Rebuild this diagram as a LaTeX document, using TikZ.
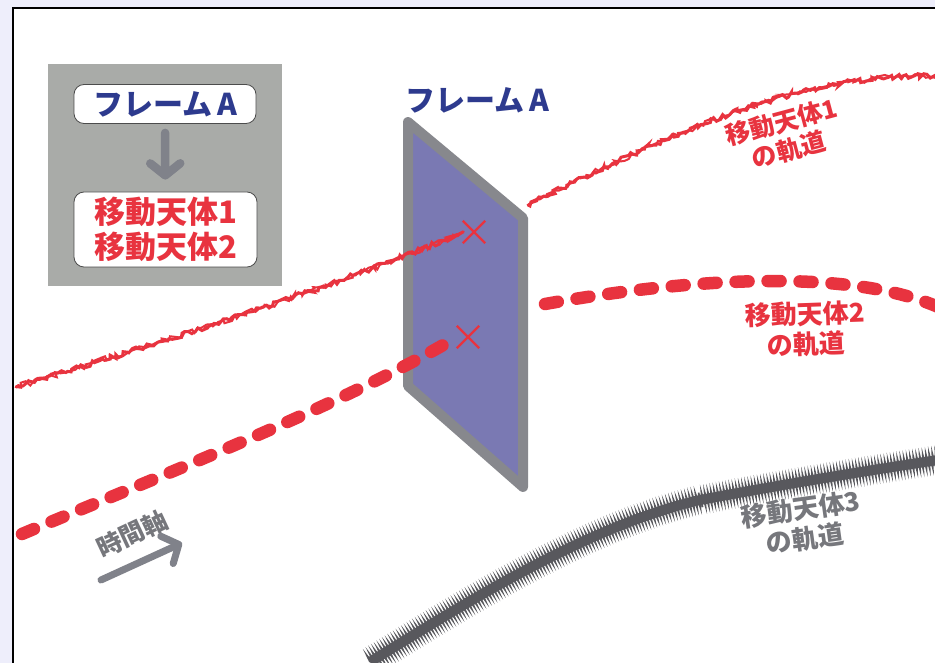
\documentclass[tikz,border=0pt]{standalone}
\usepackage{fontspec}
\newfontfamily\jp{Noto Sans CJK JP}
\usetikzlibrary{decorations.pathmorphing,arrows.meta,shapes.misc}
\definecolor{bglav}{HTML}{EEEEFB}
\definecolor{leggray}{HTML}{A9ABA8}
\definecolor{navy}{HTML}{2D3A8E}
\definecolor{orbred}{HTML}{E8333F}
\definecolor{pfill}{HTML}{7A79B3}
\definecolor{pedge}{HTML}{87888D}
\definecolor{arrgray}{HTML}{80828A}
\definecolor{labgray}{HTML}{76777C}
\definecolor{orbgray}{HTML}{58585D}
\tikzset{
  lbox/.style={draw=black!70, line width=0.8pt, fill=white, rounded corners=10pt, inner sep=0pt, align=center},
  jpf/.style 2 args={font=\jp\bfseries\fontsize{#1}{#2}\selectfont},
  garrow/.style={draw=arrgray, line width=8.5pt, line cap=round, -{Straight Barb[round,length=12pt,width=30pt]}},
  orbone/.style={draw=orbred, line width=3pt, line cap=round, decorate, decoration={random steps, segment length=3pt, amplitude=2.4pt}},
  orbonex/.style={draw=orbred, line width=2pt, line cap=round, decorate, decoration={random steps, segment length=4pt, amplitude=3pt}},
  orbtwo/.style={draw=orbred, line width=12.5pt, line cap=round, dash pattern=on 13pt off 19pt},
  orbbase/.style={draw=orbgray, line width=10pt},
  orbthree/.style={draw=orbgray, line width=1.6pt, decorate, decoration={zigzag, segment length=3.2pt, amplitude=7.5pt}},
  xmark/.style={cross out, draw=orbred, line width=2.4pt, minimum size=20pt, inner sep=0pt},
  orblab/.style={align=center, inner sep=0pt},
}
\pgfmathsetseed{7}
\begin{document}
\begin{tikzpicture}[x=1pt,y=-1pt]
\clip (0,0) rectangle (935,663);
\fill[bglav] (0,0) rectangle (935,663);
\draw[line width=2pt, fill=white] (13,8) rectangle (950,680);

% legend
\fill[leggray] (48,64) rectangle (282,286);
\node[lbox, minimum width=182pt, minimum height=39pt, jpf={30}{34}, text=navy] (fa) at (165,104) {フレーム\hspace{5pt}A};
\node[lbox, minimum width=183pt, minimum height=75pt, jpf={31}{35}, text=orbred] (fb) at (165.5,229.5) {移動天体1\\移動天体2};
\draw[garrow, shorten <=9pt, shorten >=12pt] (fa) -- (fb);

% frame panel
\draw[line width=10pt, draw=pedge, fill=pfill, line join=round] (408,122) -- (523,218) -- (523,487) -- (408,386) -- cycle;
\node[jpf={30}{34}, text=navy] (flabel) at (477,100) {フレーム\hspace{5pt}A};

% crossing marks
\node[xmark] (x1) at (474,232) {};
\node[xmark] (x2) at (468,337) {};

% orbit 1
\coordinate (o1a) at (16,387);
\coordinate (o1b) at (528,205);
\coordinate (o1c) at (940,76);
\draw[orbone] (o1a) .. controls (170,340) and (340,285) .. (x1.west);
\draw[orbonex] (o1a) .. controls (170,340) and (340,285) .. (x1.west);
\draw[orbone] (o1b) .. controls (640,150) and (790,70) .. (o1c);
\draw[orbonex] (o1b) .. controls (640,150) and (790,70) .. (o1c);

% orbit 2
\coordinate (o2a) at (22,534);
\coordinate (o2b) at (545,304);
\coordinate (o2c) at (945,310);
\draw[orbtwo] (o2a) .. controls (150,480) and (330,410) .. (445,344);
\draw[orbtwo] (o2b) .. controls (680,280) and (850,265) .. (o2c);

% orbit 3
\coordinate (o3a) at (370,662);
\coordinate (o3b) at (700,500);
\coordinate (o3c) at (945,459);
\draw[orbbase] (o3a) .. controls (470,600) and (590,525) .. (o3b) .. controls (780,485) and (870,470) .. (o3c);
\draw[orbthree] (o3a) .. controls (470,600) and (590,525) .. (o3b) .. controls (780,485) and (870,470) .. (o3c);

% orbit labels
\node[orblab, jpf={25}{29}, text=orbred, rotate=15] (l1) at (785,136) {移動天体1\\の軌道};
\node[orblab, jpf={26}{30}, text=orbred, rotate=2] (l2) at (806,329) {移動天体2\\の軌道};
\node[orblab, jpf={26}{30}, text=labgray, rotate=8] (l3) at (803,524) {移動天体3\\の軌道};

% time axis
\node[jpf={25}{29}, text=labgray, rotate=25] (tl) at (132,534) {時間軸};
\coordinate (ta) at (101,580);
\coordinate (tb) at (182,543);
\draw[garrow, line width=7pt, -{Straight Barb[round,length=13pt,width=30pt]}] (ta) -- (tb);
\end{tikzpicture}
\end{document}
